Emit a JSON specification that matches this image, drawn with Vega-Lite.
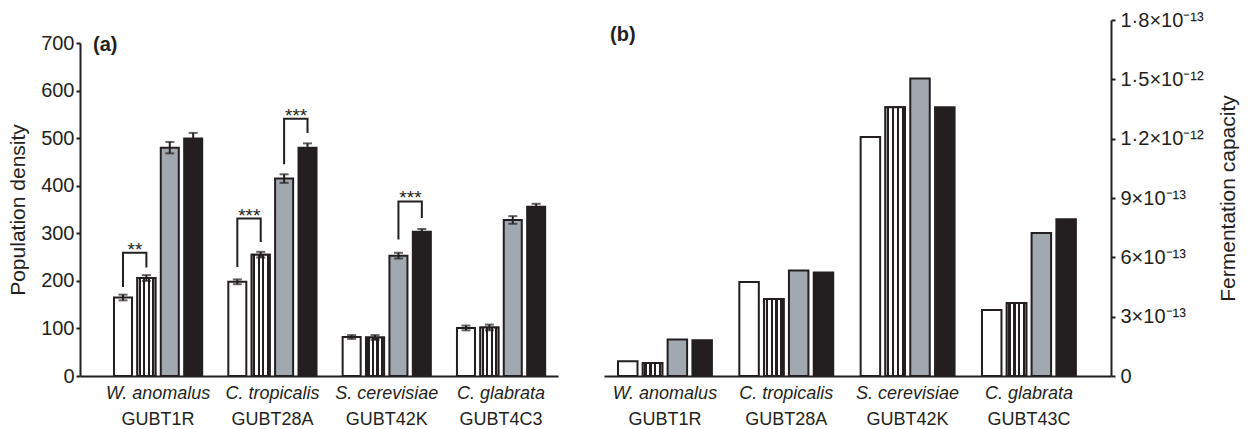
{
  "$schema": "https://vega.github.io/schema/vega-lite/v6.json",
  "background": "white",
  "padding": {"left": 7, "top": 10, "right": 5, "bottom": 0},
  "spacing": 46,
  "resolve": {"scale": {"x": "independent", "xOffset": "independent", "y": "independent", "fill": "independent"}},
  "config": {
    "font": "Liberation Sans",
    "view": {"stroke": null},
    "axis": {
      "labelFont": "Liberation Sans", "labelFontSize": 18, "labelColor": "#231f20",
      "titleFont": "Liberation Sans", "titleFontSize": 21, "titleFontWeight": "normal", "titleColor": "#231f20",
      "domainColor": "#231f20", "domainWidth": 2, "tickColor": "#231f20", "tickWidth": 2, "tickSize": 4, "grid": false
    }
  },
  "datasets": {
    "density": [
      {"species": "W. anomalus", "strain": "GUBT1R", "cond": "c1", "value": 165, "lo": 159, "hi": 171},
      {"species": "W. anomalus", "strain": "GUBT1R", "cond": "c2", "value": 206, "lo": 200, "hi": 212},
      {"species": "W. anomalus", "strain": "GUBT1R", "cond": "c3", "value": 480, "lo": 468, "hi": 492},
      {"species": "W. anomalus", "strain": "GUBT1R", "cond": "c4", "value": 499, "lo": 487, "hi": 511},
      {"species": "C. tropicalis", "strain": "GUBT28A", "cond": "c1", "value": 198, "lo": 193, "hi": 203},
      {"species": "C. tropicalis", "strain": "GUBT28A", "cond": "c2", "value": 255, "lo": 249, "hi": 261},
      {"species": "C. tropicalis", "strain": "GUBT28A", "cond": "c3", "value": 415, "lo": 406, "hi": 424},
      {"species": "C. tropicalis", "strain": "GUBT28A", "cond": "c4", "value": 480, "lo": 471, "hi": 489},
      {"species": "S. cerevisiae", "strain": "GUBT42K", "cond": "c1", "value": 82, "lo": 78, "hi": 86},
      {"species": "S. cerevisiae", "strain": "GUBT42K", "cond": "c2", "value": 81, "lo": 76, "hi": 86},
      {"species": "S. cerevisiae", "strain": "GUBT42K", "cond": "c3", "value": 253, "lo": 247, "hi": 259},
      {"species": "S. cerevisiae", "strain": "GUBT42K", "cond": "c4", "value": 303, "lo": 297, "hi": 309},
      {"species": "C. glabrata", "strain": "GUBT4C3", "cond": "c1", "value": 101, "lo": 96, "hi": 106},
      {"species": "C. glabrata", "strain": "GUBT4C3", "cond": "c2", "value": 102, "lo": 96, "hi": 108},
      {"species": "C. glabrata", "strain": "GUBT4C3", "cond": "c3", "value": 328, "lo": 320, "hi": 336},
      {"species": "C. glabrata", "strain": "GUBT4C3", "cond": "c4", "value": 356, "lo": 350, "hi": 362}
    ],
    "brackets": [
      {"id": "b1", "species": "W. anomalus", "cond": "c1", "pt": 1, "value": 189},
      {"id": "b1", "species": "W. anomalus", "cond": "c1", "pt": 2, "value": 259},
      {"id": "b1", "species": "W. anomalus", "cond": "c2", "pt": 3, "value": 259},
      {"id": "b1", "species": "W. anomalus", "cond": "c2", "pt": 4, "value": 230},
      {"id": "b2", "species": "C. tropicalis", "cond": "c1", "pt": 1, "value": 231},
      {"id": "b2", "species": "C. tropicalis", "cond": "c1", "pt": 2, "value": 331},
      {"id": "b2", "species": "C. tropicalis", "cond": "c2", "pt": 3, "value": 331},
      {"id": "b2", "species": "C. tropicalis", "cond": "c2", "pt": 4, "value": 284},
      {"id": "b3", "species": "C. tropicalis", "cond": "c3", "pt": 1, "value": 447},
      {"id": "b3", "species": "C. tropicalis", "cond": "c3", "pt": 2, "value": 541},
      {"id": "b3", "species": "C. tropicalis", "cond": "c4", "pt": 3, "value": 541},
      {"id": "b3", "species": "C. tropicalis", "cond": "c4", "pt": 4, "value": 513},
      {"id": "b4", "species": "S. cerevisiae", "cond": "c3", "pt": 1, "value": 289},
      {"id": "b4", "species": "S. cerevisiae", "cond": "c3", "pt": 2, "value": 367},
      {"id": "b4", "species": "S. cerevisiae", "cond": "c4", "pt": 3, "value": 367},
      {"id": "b4", "species": "S. cerevisiae", "cond": "c4", "pt": 4, "value": 334}
    ],
    "stars": [
      {"species": "W. anomalus", "cond": "c1", "value": 259, "label": "**"},
      {"species": "C. tropicalis", "cond": "c1", "value": 331, "label": "***"},
      {"species": "C. tropicalis", "cond": "c3", "value": 541, "label": "***"},
      {"species": "S. cerevisiae", "cond": "c3", "value": 367, "label": "***"}
    ],
    "ferm": [
      {"species": "W. anomalus", "strain": "GUBT1R", "cond": "c1", "value": 7.4e-14},
      {"species": "W. anomalus", "strain": "GUBT1R", "cond": "c2", "value": 6.6e-14},
      {"species": "W. anomalus", "strain": "GUBT1R", "cond": "c3", "value": 1.85e-13},
      {"species": "W. anomalus", "strain": "GUBT1R", "cond": "c4", "value": 1.81e-13},
      {"species": "C. tropicalis", "strain": "GUBT28A", "cond": "c1", "value": 4.75e-13},
      {"species": "C. tropicalis", "strain": "GUBT28A", "cond": "c2", "value": 3.89e-13},
      {"species": "C. tropicalis", "strain": "GUBT28A", "cond": "c3", "value": 5.33e-13},
      {"species": "C. tropicalis", "strain": "GUBT28A", "cond": "c4", "value": 5.23e-13},
      {"species": "S. cerevisiae", "strain": "GUBT42K", "cond": "c1", "value": 1.209e-12},
      {"species": "S. cerevisiae", "strain": "GUBT42K", "cond": "c2", "value": 1.359e-12},
      {"species": "S. cerevisiae", "strain": "GUBT42K", "cond": "c3", "value": 1.504e-12},
      {"species": "S. cerevisiae", "strain": "GUBT42K", "cond": "c4", "value": 1.359e-12},
      {"species": "C. glabrata", "strain": "GUBT43C", "cond": "c1", "value": 3.34e-13},
      {"species": "C. glabrata", "strain": "GUBT43C", "cond": "c2", "value": 3.69e-13},
      {"species": "C. glabrata", "strain": "GUBT43C", "cond": "c3", "value": 7.23e-13},
      {"species": "C. glabrata", "strain": "GUBT43C", "cond": "c4", "value": 7.93e-13}
    ]
  },
  "hconcat": [
    {
      "width": 478,
      "height": 356,
      "title": {"text": "(a)", "anchor": "start", "frame": "group", "fontSize": 20, "fontWeight": "bold", "color": "#231f20", "offset": -35, "dx": 13},
      "layer": [
        {
          "data": {"name": "density"},
          "mark": {"type": "bar", "stroke": "#231f20", "strokeWidth": 2},
          "encoding": {
            "x": {"field": "species", "type": "nominal",
                  "scale": {"domain": ["W. anomalus", "C. tropicalis", "S. cerevisiae", "C. glabrata"], "paddingInner": 0.2285, "paddingOuter": 0.2047, "align": 0.726},
                  "axis": {"title": null, "labelFontStyle": "italic", "labelAngle": 0, "ticks": false, "tickSize": 0, "labelPadding": 8}},
            "xOffset": {"field": "cond", "type": "nominal", "scale": {"domain": ["c1", "c2", "c3", "c4"], "paddingInner": 0.23, "paddingOuter": 0}},
            "y": {"field": "value", "type": "quantitative",
                  "scale": {"domain": [0, 700], "nice": false, "rangeMax": 23},
                  "axis": {"title": "Population density", "values": [0, 100, 200, 300, 400, 500, 600, 700], "labelFontSize": 20, "labelPadding": 2, "titlePadding": 12}},
            "fill": {"field": "cond", "type": "nominal", "scale": {"domain": ["c1", "c2", "c3", "c4"], "range": ["#ffffff", "#ffffff", "#a2a8b0", "#231f20"]}, "legend": null}
          }
        },
        {
          "data": {"name": "density"},
          "transform": [{"filter": "datum.cond === 'c2'"}],
          "mark": {"type": "bar", "stroke": "#231f20", "strokeWidth": 2,
                   "fill": {"gradient": "linear", "x1": 0, "y1": 0, "x2": 1, "y2": 0, "stops": [
                     {"offset": 0, "color": "#ffffff"}, {"offset": 0.08, "color": "#ffffff"},
                     {"offset": 0.08, "color": "#231f20"}, {"offset": 0.2, "color": "#231f20"},
                     {"offset": 0.2, "color": "#ffffff"}, {"offset": 0.33, "color": "#ffffff"},
                     {"offset": 0.33, "color": "#231f20"}, {"offset": 0.45, "color": "#231f20"},
                     {"offset": 0.45, "color": "#ffffff"}, {"offset": 0.58, "color": "#ffffff"},
                     {"offset": 0.58, "color": "#231f20"}, {"offset": 0.7, "color": "#231f20"},
                     {"offset": 0.7, "color": "#ffffff"}, {"offset": 0.83, "color": "#ffffff"},
                     {"offset": 0.83, "color": "#231f20"}, {"offset": 0.95, "color": "#231f20"},
                     {"offset": 0.95, "color": "#ffffff"}, {"offset": 1, "color": "#ffffff"}]}},
          "encoding": {
            "x": {"field": "species", "type": "nominal", "scale": {"domain": ["W. anomalus", "C. tropicalis", "S. cerevisiae", "C. glabrata"]}},
            "xOffset": {"field": "cond", "type": "nominal", "scale": {"domain": ["c1", "c2", "c3", "c4"]}},
            "y": {"field": "value", "type": "quantitative"}
          }
        },
        {
          "data": {"name": "density"},
          "mark": {"type": "rule", "color": "#231f20", "strokeWidth": 2},
          "encoding": {
            "x": {"field": "species", "type": "nominal", "scale": {"domain": ["W. anomalus", "C. tropicalis", "S. cerevisiae", "C. glabrata"]}},
            "xOffset": {"field": "cond", "type": "nominal", "scale": {"domain": ["c1", "c2", "c3", "c4"]}},
            "y": {"field": "lo", "type": "quantitative"},
            "y2": {"field": "hi"}
          }
        },
        {
          "data": {"name": "density"},
          "mark": {"type": "tick", "orient": "horizontal", "color": "#231f20", "size": 9, "thickness": 2},
          "encoding": {
            "x": {"field": "species", "type": "nominal", "scale": {"domain": ["W. anomalus", "C. tropicalis", "S. cerevisiae", "C. glabrata"]}},
            "xOffset": {"field": "cond", "type": "nominal", "scale": {"domain": ["c1", "c2", "c3", "c4"]}},
            "y": {"field": "hi", "type": "quantitative"}
          }
        },
        {
          "data": {"name": "density"},
          "mark": {"type": "tick", "orient": "horizontal", "color": "#231f20", "size": 9, "thickness": 2},
          "encoding": {
            "x": {"field": "species", "type": "nominal", "scale": {"domain": ["W. anomalus", "C. tropicalis", "S. cerevisiae", "C. glabrata"]}},
            "xOffset": {"field": "cond", "type": "nominal", "scale": {"domain": ["c1", "c2", "c3", "c4"]}},
            "y": {"field": "lo", "type": "quantitative"}
          }
        },
        {
          "data": {"name": "brackets"},
          "mark": {"type": "line", "color": "#231f20", "strokeWidth": 2, "strokeCap": "square"},
          "encoding": {
            "x": {"field": "species", "type": "nominal", "scale": {"domain": ["W. anomalus", "C. tropicalis", "S. cerevisiae", "C. glabrata"]}},
            "xOffset": {"field": "cond", "type": "nominal", "scale": {"domain": ["c1", "c2", "c3", "c4"]}},
            "y": {"field": "value", "type": "quantitative"},
            "detail": {"field": "id"},
            "order": {"field": "pt", "type": "quantitative"}
          }
        },
        {
          "data": {"name": "stars"},
          "mark": {"type": "text", "color": "#231f20", "fontSize": 19, "baseline": "alphabetic", "align": "center", "dx": 12, "dy": 3},
          "encoding": {
            "x": {"field": "species", "type": "nominal", "scale": {"domain": ["W. anomalus", "C. tropicalis", "S. cerevisiae", "C. glabrata"]}},
            "xOffset": {"field": "cond", "type": "nominal", "scale": {"domain": ["c1", "c2", "c3", "c4"]}},
            "y": {"field": "value", "type": "quantitative"},
            "text": {"field": "label"}
          }
        },
        {
          "data": {"name": "density"},
          "transform": [{"filter": "datum.cond === 'c1'"}],
          "mark": {"type": "text", "color": "#231f20", "fontSize": 18, "baseline": "middle", "align": "center", "dy": 44},
          "encoding": {
            "x": {"field": "species", "type": "nominal", "scale": {"domain": ["W. anomalus", "C. tropicalis", "S. cerevisiae", "C. glabrata"]}},
            "y": {"datum": 0, "type": "quantitative"},
            "text": {"field": "strain"}
          }
        }
      ]
    },
    {
      "width": 507,
      "height": 356,
      "title": {"text": "(b)", "anchor": "start", "frame": "group", "fontSize": 20, "fontWeight": "bold", "color": "#231f20", "offset": -35, "dx": 6},
      "layer": [
        {
          "data": {"name": "ferm"},
          "mark": {"type": "bar", "stroke": "#231f20", "strokeWidth": 2},
          "encoding": {
            "x": {"field": "species", "type": "nominal",
                  "scale": {"domain": ["W. anomalus", "C. tropicalis", "S. cerevisiae", "C. glabrata"], "paddingInner": 0.226, "paddingOuter": 0.2024, "align": 0.285},
                  "axis": {"title": null, "labelFontStyle": "italic", "labelAngle": 0, "ticks": false, "tickSize": 0, "labelPadding": 8}},
            "xOffset": {"field": "cond", "type": "nominal", "scale": {"domain": ["c1", "c2", "c3", "c4"], "paddingInner": 0.214, "paddingOuter": 0}},
            "y": {"field": "value", "type": "quantitative",
                  "scale": {"domain": [0, 1.8e-12], "nice": false},
                  "axis": {"orient": "right", "title": "Fermentation capacity", "titleAngle": 270, "titleBaseline": "top", "titlePadding": 14, "labelFontSize": 20, "labelPadding": 5,
                           "values": [0, 3e-13, 6e-13, 9e-13, 1.2e-12, 1.5e-12, 1.8e-12],
                           "labelExpr": "datum.value < 1e-14 ? '0' : datum.value < 4e-13 ? '3×10⁻¹³' : datum.value < 7e-13 ? '6×10⁻¹³' : datum.value < 1e-12 ? '9×10⁻¹³' : datum.value < 1.3e-12 ? '1·2×10⁻¹²' : datum.value < 1.6e-12 ? '1·5×10⁻¹²' : '1·8×10⁻¹³'"}},
            "fill": {"field": "cond", "type": "nominal", "scale": {"domain": ["c1", "c2", "c3", "c4"], "range": ["#ffffff", "#ffffff", "#a2a8b0", "#231f20"]}, "legend": null}
          }
        },
        {
          "data": {"name": "ferm"},
          "transform": [{"filter": "datum.cond === 'c2'"}],
          "mark": {"type": "bar", "stroke": "#231f20", "strokeWidth": 2,
                   "fill": {"gradient": "linear", "x1": 0, "y1": 0, "x2": 1, "y2": 0, "stops": [
                     {"offset": 0, "color": "#ffffff"}, {"offset": 0.08, "color": "#ffffff"},
                     {"offset": 0.08, "color": "#231f20"}, {"offset": 0.2, "color": "#231f20"},
                     {"offset": 0.2, "color": "#ffffff"}, {"offset": 0.33, "color": "#ffffff"},
                     {"offset": 0.33, "color": "#231f20"}, {"offset": 0.45, "color": "#231f20"},
                     {"offset": 0.45, "color": "#ffffff"}, {"offset": 0.58, "color": "#ffffff"},
                     {"offset": 0.58, "color": "#231f20"}, {"offset": 0.7, "color": "#231f20"},
                     {"offset": 0.7, "color": "#ffffff"}, {"offset": 0.83, "color": "#ffffff"},
                     {"offset": 0.83, "color": "#231f20"}, {"offset": 0.95, "color": "#231f20"},
                     {"offset": 0.95, "color": "#ffffff"}, {"offset": 1, "color": "#ffffff"}]}},
          "encoding": {
            "x": {"field": "species", "type": "nominal", "scale": {"domain": ["W. anomalus", "C. tropicalis", "S. cerevisiae", "C. glabrata"]}},
            "xOffset": {"field": "cond", "type": "nominal", "scale": {"domain": ["c1", "c2", "c3", "c4"]}},
            "y": {"field": "value", "type": "quantitative"}
          }
        },
        {
          "data": {"name": "ferm"},
          "transform": [{"filter": "datum.cond === 'c1'"}],
          "mark": {"type": "text", "color": "#231f20", "fontSize": 18, "baseline": "middle", "align": "center", "dy": 44},
          "encoding": {
            "x": {"field": "species", "type": "nominal", "scale": {"domain": ["W. anomalus", "C. tropicalis", "S. cerevisiae", "C. glabrata"]}},
            "y": {"datum": 0, "type": "quantitative"},
            "text": {"field": "strain"}
          }
        }
      ]
    }
  ]
}
